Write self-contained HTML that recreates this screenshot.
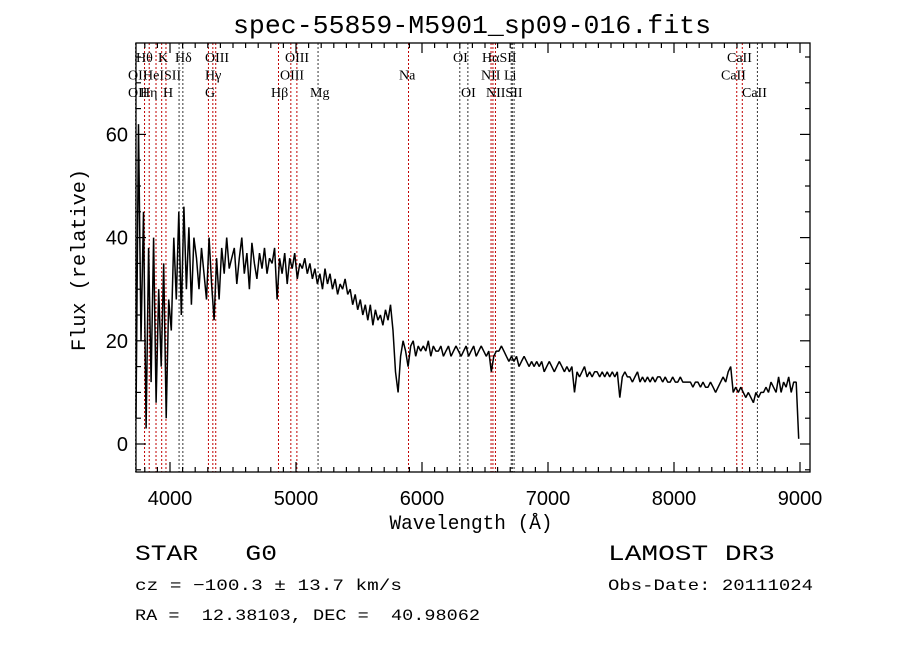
<!DOCTYPE html>
<html><head><meta charset="utf-8"><style>
html,body{margin:0;padding:0;background:#fff;}
svg{display:block;}
text{font-family:"Liberation Sans",sans-serif;fill:#000;}
text.mono{font-family:"Liberation Mono",monospace;}
text.lbl{font-family:"Liberation Serif",serif;font-size:14px;}
</style></head><body>
<svg id="chart" width="900" height="649" viewBox="0 0 900 649" xmlns="http://www.w3.org/2000/svg">
<rect width="900" height="649" fill="#fff"/>
<text class="mono" x="472" y="33" font-size="26" text-anchor="middle" textLength="478" lengthAdjust="spacingAndGlyphs">spec-55859-M5901_sp09-016.fits</text>
<g id="lines"></g>
<g id="ticks"></g>
<path id="spec" fill="none" stroke="#000" stroke-width="1.5" stroke-linejoin="bevel"/>
<rect x="136" y="43" width="674" height="429" fill="none" stroke="#000" stroke-width="1.3"/>
<g id="linelabels"></g>
<text class="mono" x="471" y="529" font-size="20" text-anchor="middle" textLength="163" lengthAdjust="spacingAndGlyphs">Wavelength (Å)</text>
<text class="mono" transform="translate(85,260) rotate(-90)" font-size="20" text-anchor="middle" textLength="182" lengthAdjust="spacingAndGlyphs">Flux (relative)</text>
<text class="mono" x="135" y="560" font-size="22" textLength="142" lengthAdjust="spacingAndGlyphs" xml:space="preserve">STAR   G0</text>
<text class="mono" x="608" y="560" font-size="22" textLength="167" lengthAdjust="spacingAndGlyphs">LAMOST DR3</text>
<text class="mono" x="135" y="590" font-size="16" textLength="267" lengthAdjust="spacingAndGlyphs">cz = −100.3 ± 13.7 km/s</text>
<text class="mono" x="608" y="590" font-size="16" textLength="205" lengthAdjust="spacingAndGlyphs">Obs-Date: 20111024</text>
<text class="mono" x="135" y="620" font-size="16" textLength="345" lengthAdjust="spacingAndGlyphs" xml:space="preserve">RA =  12.38103, DEC =  40.98062</text>
</svg>
<script>
const waveStart = 3730;
const waveStep = 20;
const flux = [
5,62,20,45,3,38,12,40,8,30,15,35,5,28,
22,40,28,45,25,46,30,42,27,40,
36,30,38,33,28,40,31,24,36,28,38,33,40,34,36,
38,31,36,40,33,37,30,39,35,32,37,34,38,33,36,
35,38,28,36,33,37,31,36,34,37,32,35,34,36,33,
35,32,34,31,33,30,34,31,33,30,32,29,31,30,32,
29,30,27,29,26,28,25,27,24,27,23,26,24,25,23,
26,24,27,22,14,10,17,20,18,15,19,20,17,19,18,
19,18,20,17,19,18,18,19,17,18,19,17,18,19,18,
17,18,19,17,18,19,17,18,19,18,17,18,14,17,18,
18,19,18,17,16,17,16,17,15,16,17,16,15,16,15,
16,15,16,14,15,16,15,14,15,16,15,14,15,14,15,
10,14,13,14,15,13,14,13,14,14,13,14,13,14,13,
14,13,14,9,13,14,13,13,12,13,14,12,13,12,13,
12,13,12,13,13,12,13,12,12,13,12,12,13,12,12,
12,12,11,12,12,11,12,11,11,12,11,10,11,12,13,
12,14,15,10,11,10,11,10,9,10,9,8,10,9,10,
10,11,10,12,11,10,13,10,12,11,13,10,12,12,1
];
const lineWaves = [3727,3798,3835,3889,3934,3968,4072,4102,4305,4340,4363,4861,4959,5007,5175,5893,6300,6364,6548,6563,6583,6708,6717,6731,8498,8542,8662];
const lineRed = [0,1,1,1,1,1,0,0,1,1,1,1,1,1,0,1,0,0,1,1,1,0,0,0,1,1,0];
const xTicks = [4000,5000,6000,7000,8000,9000];
const yTicks = [0,20,40,60];
const labelText = ["Hθ","K","Hδ","OIII","OIII","OI","HαSII","CaII","OII","HeI","SII","Hγ","OIII","Na","NII","Li","CaII","OII","Hη","H","G","Hβ","Mg","OI","NIISII","CaII"];
const labelX = [136,158,175,205,285,453,482,727,128,143,164,205,280,399,481,504,721,128,140,163,205,271,310,461,486,742];
const labelRow = [0,0,0,0,0,0,0,0,1,1,1,1,1,1,1,1,1,2,2,2,2,2,2,2,2,2];

const NS="http://www.w3.org/2000/svg";
const X0=136,X1=810,Y0=43,Y1=472;
function xs(w){return 800+(w-9000)*0.126;}
function ys(v){return 444-v*5.16;}

let d="";
flux.forEach((v,i)=>{const w=waveStart+waveStep*i;const x=Math.min(xs(w),X1-10);d+=(i?"L":"M")+x.toFixed(1)+","+ys(v).toFixed(1);});
document.getElementById('spec').setAttribute('d',d);

const lg=document.getElementById('lines');
lineWaves.forEach((w,i)=>{
  const l=document.createElementNS(NS,'line');
  const x=xs(w);
  l.setAttribute('x1',x);l.setAttribute('x2',x);l.setAttribute('y1',Y0);l.setAttribute('y2',Y1);
  l.setAttribute('stroke',lineRed[i]?'#c00000':'#333');
  l.setAttribute('stroke-width','1');
  l.setAttribute('stroke-dasharray','2,2');
  
  
  lg.appendChild(l);
});

const tg=document.getElementById('ticks');
function addLine(x1,y1,x2,y2){const l=document.createElementNS(NS,'line');l.setAttribute('x1',x1);l.setAttribute('y1',y1);l.setAttribute('x2',x2);l.setAttribute('y2',y2);l.setAttribute('stroke','#000');l.setAttribute('stroke-width','1.2');
  
  
  tg.appendChild(l);}
function addText(x,y,s,anchor,size){const t=document.createElementNS(NS,'text');t.setAttribute('x',x);t.setAttribute('y',y);t.setAttribute('text-anchor',anchor);t.setAttribute('font-size',size);t.textContent=s;
  
  
  tg.appendChild(t);return t;}
for(let w=3800;w<=9000;w+=100){const x=xs(w);const major=w%1000===0;const len=major?10:5;addLine(x,Y1,x,Y1-len);addLine(x,Y0,x,Y0+len);}
xTicks.forEach(w=>{addText(xs(w),505,String(w),'middle',20);});
for(let v=-5;v<=75;v+=5){const y=ys(v);if(y<Y0||y>Y1)continue;const major=v%20===0;const len=major?10:5;addLine(X0,y,X0+len,y);addLine(X1,y,X1-len,y);}
yTicks.forEach(v=>{addText(128,ys(v)+7,String(v),'end',20);});

const lb=document.getElementById('linelabels');
labelText.forEach((s,i)=>{
  const t=document.createElementNS(NS,'text');
  t.setAttribute('x',labelX[i]);t.setAttribute('y',62+labelRow[i]*17.5);
  t.setAttribute('class','lbl');t.textContent=s;
  
  
  lb.appendChild(t);
});
</script>
</body></html>
